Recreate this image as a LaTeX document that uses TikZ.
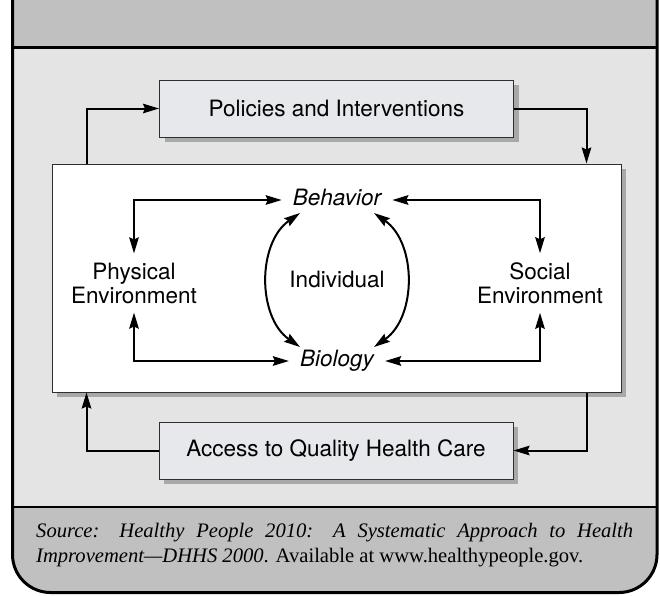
\documentclass[tikz,border=0pt]{standalone}
\usepackage{fontspec}
\setsansfont{TeX Gyre Heros}
\setmainfont{Liberation Serif}
\usetikzlibrary{arrows.meta, positioning, calc, shadows}
\definecolor{panel}{HTML}{C0C0C0}
\definecolor{field}{HTML}{E4E4E4}
\definecolor{boxfill}{HTML}{E7E8EB}
\definecolor{shade}{HTML}{A8A8A8}
\definecolor{edge}{HTML}{2E2E2E}

\begin{document}
\begin{tikzpicture}[x=1pt, y=-1pt,
    box/.style={draw=edge, line width=1pt, fill=boxfill, minimum width=354pt,
      minimum height=57pt, font=\sffamily\fontsize{22.5}{25}\selectfont,
      drop shadow={shadow xshift=5pt, shadow yshift=-5pt, fill=shade, opacity=1}},
    word/.style={font=\sffamily\fontsize{22.5}{25}\selectfont, text height=16pt,
      text depth=4.5pt, inner xsep=11pt, inner ysep=6pt},
    conn/.style={line width=2pt, -{Stealth[length=16pt, width=9.5pt, inset=2pt]}},
    link/.style={line width=2pt,
      {Stealth[length=16pt, width=9.5pt, inset=2pt]}-{Stealth[length=16pt, width=9.5pt, inset=2pt]}}]
  \useasboundingbox (0,0) rectangle (660,595);

  % Background panels
  \fill[panel] (12.5,0) rectangle (657,47);
  \fill[field] (12.5,47) rectangle (657,507);
  \fill[panel, rounded corners=38pt] (12.5,507) -- (12.5,592.5) -- (657,592.5) -- (657,507);
  \draw[line width=3pt, rounded corners=38pt] (12.5,-5) -- (12.5,592.5) -- (657,592.5) -- (657,-5);
  \draw[line width=3pt] (12.5,47) -- (657,47);
  \draw[line width=2.5pt] (12.5,507) -- (657,507);

  % Outer boxes
  \node[box] (pol) at (336.5,108.5) {Policies and Interventions};
  \node[box, fill=white, minimum width=569pt, minimum height=228pt] (core) at (336.5,278) {};
  \node[box] (acc) at (336,450.5) {Access to Quality Health Care};

  % Feedback loop around the determinants
  \draw[conn] ([xshift=35pt]core.north west) |- (pol);
  \draw[conn] (pol) -| ([xshift=-35pt]core.north east);
  \draw[conn] ([xshift=-35pt]core.south east) |- (acc);
  \draw[conn] (acc) -| ([xshift=35pt]core.south west);

  % Determinants inside
  \node[word, font=\sffamily\itshape\fontsize{22.5}{25}\selectfont] (beh) at (337,200) {Behavior};
  \node[word, font=\sffamily\itshape\fontsize{22.5}{25}\selectfont] (bio) at (337,361) {Biology};
  \node[word] (ind) at (337,282) {Individual};
  \node[font=\sffamily\fontsize{22.5}{24}\selectfont, align=center, inner ysep=9pt] (phys) at (134,283)
    {Physical\\Environment};
  \node[font=\sffamily\fontsize{22.5}{24}\selectfont, align=center, inner ysep=9pt] (soc) at (540,283)
    {Social\\Environment};

  \draw[link] (phys) |- (beh);
  \draw[link] (phys) |- (bio);
  \draw[link] (soc) |- (beh);
  \draw[link] (soc) |- (bio);
  \draw[link] ($(ind)+(-37,-69)$) to[bend right=55] ($(ind)+(-37,65)$);
  \draw[link] ($(ind)+(37,-69)$) to[bend left=55] ($(ind)+(37,65)$);

  % Source line
  \node[anchor=base west, inner sep=0pt, font=\fontsize{20.6}{25}\selectfont] (src) at (36,537)
    {\makebox[597pt][s]{\itshape Source: Healthy People 2010: A Systematic Approach to Health}};
  \node[anchor=base west, inner sep=0pt, font=\fontsize{20.6}{25}\selectfont] (srcb) at (36,562)
    {\textit{Improvement---DHHS 2000}. Available at www.healthypeople.gov.};
\end{tikzpicture}
\end{document}
